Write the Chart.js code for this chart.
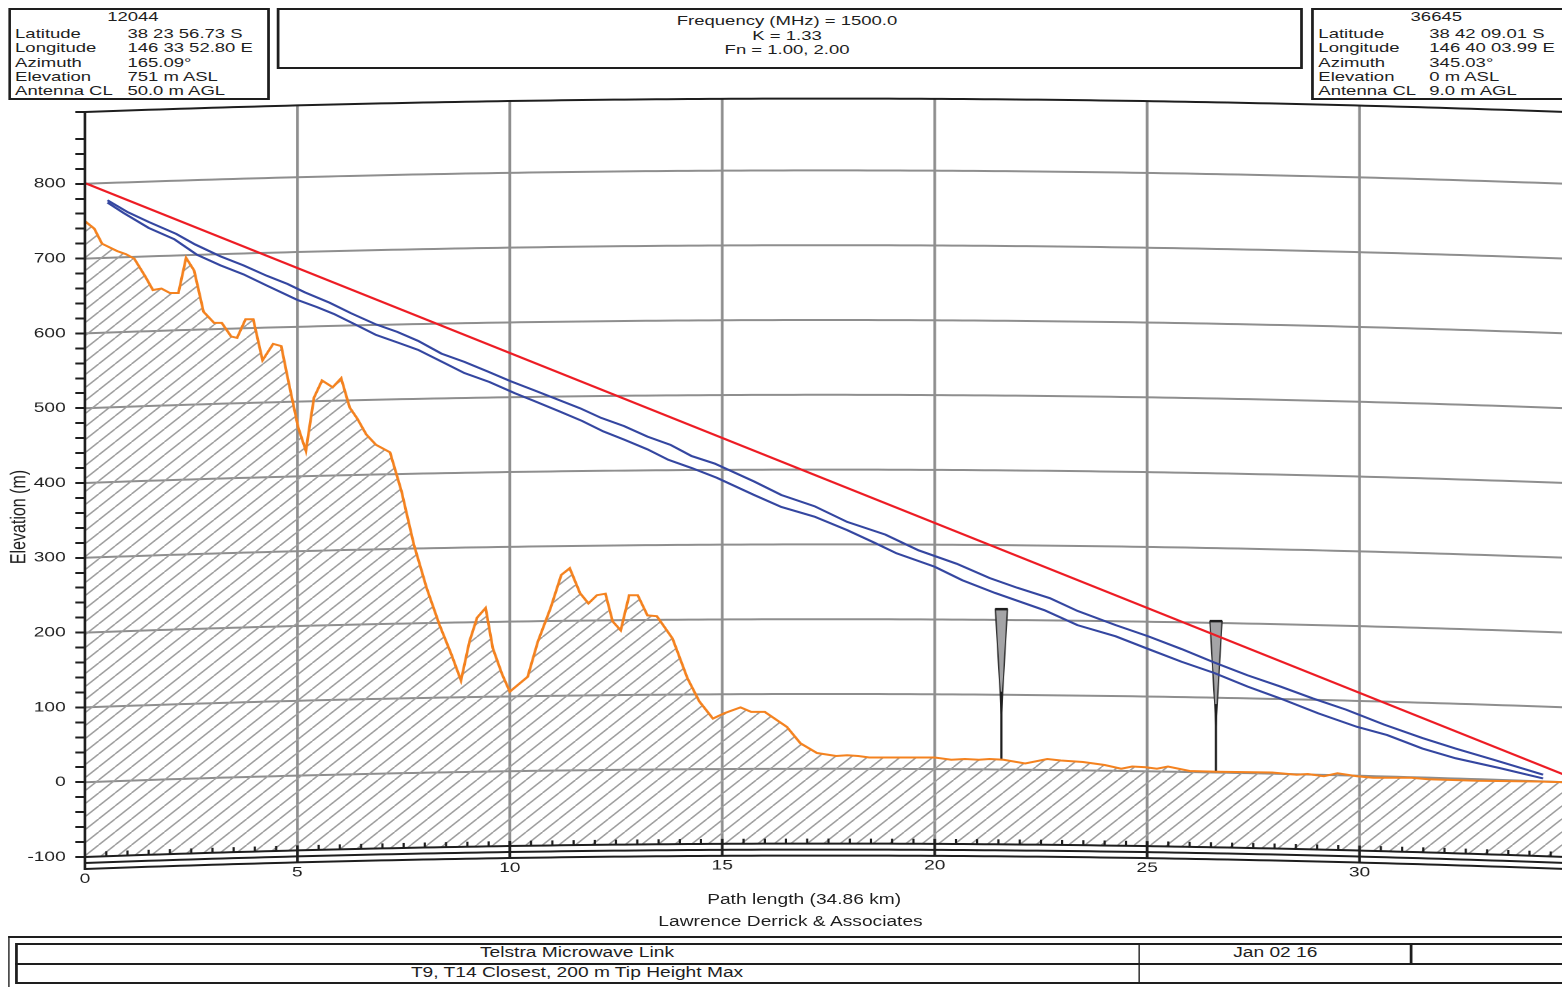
<!DOCTYPE html>
<html>
<head>
<meta charset="utf-8">
<script src="https://cdn.jsdelivr.net/npm/chart.js@4"></script>
<style>
  html, body { margin: 0; width: 1562px; height: 987px; overflow: hidden; background: #fff; }
  #page { position: absolute; left: 0; top: 0; width: 1160px; height: 987px; transform: scaleX(1.37); transform-origin: 0 0;
          font-family: "Liberation Sans", Arial, sans-serif; color: #1e1e1e; }
  #page canvas { position: absolute; left: 0; top: 0; }
  .box { position: absolute; border: 2px solid #1e1e1e; box-sizing: border-box; background: #fff; }
  .t { position: absolute; font-size: 13.5px; line-height: 15px; white-space: nowrap; }
  .c { text-align: center; }
  .ln { position: absolute; background: #1e1e1e; }
</style>
</head>
<body>
<div id="page">
  <canvas id="profile" width="1160" height="987"></canvas>

  <!-- site A -->
  <div class="box" style="left:6px;top:8px;width:191px;height:92px"></div>
  <div class="t c" style="left:6px;width:182px;top:8.5px">12044</div>
  <div class="t" style="left:11px;top:25.5px">Latitude</div><div class="t" style="left:93px;top:25.5px">38 23 56.73 S</div>
  <div class="t" style="left:11px;top:40px">Longitude</div><div class="t" style="left:93px;top:40px">146 33 52.80 E</div>
  <div class="t" style="left:11px;top:54.5px">Azimuth</div><div class="t" style="left:93px;top:54.5px">165.09°</div>
  <div class="t" style="left:11px;top:68.5px">Elevation</div><div class="t" style="left:93px;top:68.5px">751 m ASL</div>
  <div class="t" style="left:11px;top:83px">Antenna CL</div><div class="t" style="left:93px;top:83px">50.0 m AGL</div>

  <!-- link parameters -->
  <div class="box" style="left:201.5px;top:8px;width:749.5px;height:60.5px"></div>
  <div class="t c" style="left:201.5px;width:746px;top:12.5px">Frequency (MHz) = 1500.0</div>
  <div class="t c" style="left:201.5px;width:746px;top:27.5px">K = 1.33</div>
  <div class="t c" style="left:201.5px;width:746px;top:41.5px">Fn = 1.00, 2.00</div>

  <!-- site B -->
  <div class="box" style="left:957.4px;top:8px;width:191px;height:92px"></div>
  <div class="t c" style="left:957.4px;width:182px;top:8.5px">36645</div>
  <div class="t" style="left:962.3px;top:25.5px">Latitude</div><div class="t" style="left:1043.3px;top:25.5px">38 42 09.01 S</div>
  <div class="t" style="left:962.3px;top:40px">Longitude</div><div class="t" style="left:1043.3px;top:40px">146 40 03.99 E</div>
  <div class="t" style="left:962.3px;top:54.5px">Azimuth</div><div class="t" style="left:1043.3px;top:54.5px">345.03°</div>
  <div class="t" style="left:962.3px;top:68.5px">Elevation</div><div class="t" style="left:1043.3px;top:68.5px">0 m ASL</div>
  <div class="t" style="left:962.3px;top:83px">Antenna CL</div><div class="t" style="left:1043.3px;top:83px">9.0 m AGL</div>

  <!-- captions -->
  <div class="t c" style="left:387px;width:400px;top:892px;font-size:14px">Path length (34.86 km)</div>
  <div class="t c" style="left:377px;width:400px;top:914px;font-size:14px">Lawrence Derrick &amp; Associates</div>

  <!-- title block -->
  <div class="ln" style="left:5.8px;top:936px;width:1200px;height:2px"></div>
  <div class="ln" style="left:5.8px;top:936px;width:1.6px;height:60px"></div>
  <div class="box" style="left:11.2px;top:943px;width:1200px;height:41px"></div>
  <div class="ln" style="left:11.2px;top:962.5px;width:1200px;height:2px"></div>
  <div class="ln" style="left:830.6px;top:943px;width:1.6px;height:41px"></div>
  <div class="ln" style="left:1029.2px;top:943px;width:1.6px;height:21px"></div>
  <div class="t c" style="left:11.2px;width:820px;top:944.5px;font-size:14px">Telstra Microwave Link</div>
  <div class="t c" style="left:831.4px;width:199px;top:944.5px;font-size:14px">Jan 02 16</div>
  <div class="t c" style="left:11.2px;width:820px;top:964.5px;font-size:14px">T9, T14 Closest, 200 m Tip Height Max</div>
</div>

<script>
// path geometry
const pathKm = 34.86;
const kFactor = 1.33;
const yMin = -100;
const yMax = 896;
const xTicks = [0, 5, 10, 15, 20, 25, 30];

// terrain profile (m, as plotted)
const terrainKm = [0, 0.22, 0.40, 0.76, 0.96, 1.16, 1.41, 1.60, 1.80, 2.00,
  2.20, 2.38, 2.57, 2.79, 3.04, 3.22, 3.44, 3.58, 3.78, 3.96,
  4.18, 4.43, 4.62, 4.77, 5.02, 5.20, 5.39, 5.58, 5.83, 6.03,
  6.23, 6.41, 6.62, 6.85, 7.18, 7.45, 7.74, 8.04, 8.34, 8.63,
  8.85, 9.05, 9.23, 9.43, 9.60, 9.82, 10.00, 10.42, 10.66, 10.96,
  11.21, 11.41, 11.65, 11.85, 12.05, 12.25, 12.42, 12.61, 12.81, 13.01,
  13.24, 13.46, 13.83, 14.18, 14.46, 14.78, 15.04, 15.43, 15.68, 16.00,
  16.52, 16.84, 17.23, 17.68, 17.94, 18.20, 18.46, 20.00, 20.39, 20.71,
  21.04, 21.29, 21.62, 22.13, 22.65, 22.97, 23.49, 24.00, 24.39, 24.65,
  24.97, 25.23, 25.49, 26.00, 26.65, 27.94, 28.52, 28.78, 29.16, 29.48,
  29.94, 30.32, 31.22, 31.61, 32.77, 34.19, 34.86];
const terrainElev = [750, 740, 720, 710, 706, 700, 677, 658, 660, 654,
  654, 701, 684, 629, 614, 614, 596, 594, 619, 619,
  564, 586, 583, 541, 474, 443, 514, 537, 528, 540,
  501, 486, 465, 451, 441, 389, 318, 260, 211, 170,
  136, 188, 220, 233, 179, 144, 121, 141, 188, 233,
  277, 286, 253, 239, 250, 252, 215, 203, 250, 250,
  223, 222, 192, 139, 108, 85, 92, 100, 94, 94,
  74, 52, 39, 35, 36, 35, 33, 33, 30, 31,
  30, 31, 30, 25, 31, 29, 27, 23, 18, 21,
  20, 18, 21, 15, 14, 13, 10, 11, 8, 12,
  8, 6, 6, 4, 2, 1, 0];

// line of sight, antenna to antenna
const losKm = [0, 34.86];
const losElev = [801, 9];

// Fresnel clearance lines (Fn = 1.00 and 2.00)
const fn1Km = [0.53, 1.01, 1.5, 2.15, 2.59, 3.19, 3.73, 4.28, 4.77, 5.17,
  5.76, 6.26, 6.85, 7.35, 7.84, 8.39, 8.93, 9.48, 10.02, 10.57,
  11.11, 11.65, 12.15, 12.69, 13.24, 13.78, 14.28, 14.82, 15.75, 16.39,
  17.17, 17.94, 18.84, 19.62, 20.52, 21.29, 21.94, 22.71, 23.36, 24.26,
  25.03, 25.81, 26.58, 27.36, 28.13, 28.9, 29.68, 30.58, 31.48, 32.26,
  33.16, 34.32];
const fn1Elev = [778, 762, 749, 733, 719, 703, 691, 677, 666, 655,
  641, 627, 612, 602, 590, 573, 562, 549, 536, 524,
  512, 500, 487, 476, 462, 451, 436, 426, 402, 384,
  369, 348, 331, 310, 292, 273, 260, 246, 229, 210,
  195, 178, 160, 143, 128, 112, 97, 77, 59, 45,
  30, 10];
const fn2Km = [0.53, 0.91, 1.5, 2.1, 2.64, 3.19, 3.73, 4.28, 4.99, 5.47,
  5.86, 6.36, 6.85, 7.4, 7.84, 8.44, 8.93, 9.52, 10.12, 10.56,
  11.16, 11.7, 12.2, 12.69, 13.24, 13.73, 14.28, 14.87, 15.75, 16.39,
  17.17, 17.94, 18.59, 19.1, 20.0, 20.65, 21.42, 22.58, 23.36, 24.26,
  25.03, 25.81, 26.58, 27.36, 28.13, 29.03, 29.94, 30.65, 31.48, 32.26,
  33.29, 34.32];
const fn2Elev = [775, 761, 741, 726, 705, 691, 679, 664, 645, 635,
  626, 612, 598, 587, 578, 561, 547, 535, 520, 510,
  496, 483, 469, 458, 445, 431, 420, 407, 384, 368,
  355, 337, 320, 306, 288, 270, 253, 230, 210, 195,
  178, 161, 146, 128, 112, 92, 74, 63, 45, 32,
  19, 5];

// wind turbines T9, T14
const turbineKm = [21.57, 26.62];
const turbineBase = [31, 14];
const turbineTip = [231, 215];

const pts = (xs, ys) => xs.map((x, i) => ({ x: x, y: ys[i] }));
const bulge = km => km * (pathKm - km) / (12.74 * kFactor);

const ink = '#1e1e1e';
const gridGray = '#8e8e8e';

// diagonal hatch for the ground
function hatch() {
  const c = document.createElement('canvas');
  c.width = 24; c.height = 26;
  const g = c.getContext('2d');
  g.strokeStyle = '#9d9d9d';
  g.lineWidth = 2.6;
  [-24, 0, 24].forEach(o => {
    g.beginPath(); g.moveTo(o, 26); g.lineTo(o + 24, 0); g.stroke();
  });
  const p = g.createPattern(c, 'repeat');
  p.setTransform(new DOMMatrix().scale(0.5));
  return p;
}

const profileFrame = {
  id: 'profileFrame',
  beforeDatasetsDraw(chart) {
    const { ctx, scales: { x, y } } = chart;
    const yAt = (v, km) => y.getPixelForValue(v + bulge(km));
    ctx.save();
    ctx.strokeStyle = gridGray;
    ctx.lineWidth = 2;
    for (let v = 0; v <= 800; v += 100) {
      ctx.beginPath();
      for (let k = 0; k <= 140; k++) {
        const km = pathKm * k / 140;
        const px = x.getPixelForValue(km), py = yAt(v, km);
        k ? ctx.lineTo(px, py) : ctx.moveTo(px, py);
      }
      ctx.stroke();
    }
    xTicks.slice(1).forEach(km => {
      const px = x.getPixelForValue(km);
      ctx.beginPath();
      ctx.moveTo(px, yAt(yMax, km));
      ctx.lineTo(px, yAt(yMin, km));
      ctx.stroke();
    });
    // turbines
    turbineKm.forEach((km, i) => {
      const px = x.getPixelForValue(km);
      const top = y.getPixelForValue(turbineTip[i]);
      const base = y.getPixelForValue(turbineBase[i]);
      const h = base - top;
      ctx.beginPath();
      ctx.moveTo(px - 4.4, top);
      ctx.lineTo(px + 4.4, top);
      ctx.lineTo(px, top + 0.7 * h);
      ctx.closePath();
      ctx.fillStyle = '#a4a4a6';
      ctx.fill();
      ctx.strokeStyle = '#333';
      ctx.lineWidth = 1;
      ctx.stroke();
      ctx.fillStyle = ink;
      ctx.fillRect(px - 4.6, top - 1.5, 9.2, 2.5);
      ctx.strokeStyle = ink;
      ctx.lineWidth = 1.6;
      ctx.beginPath();
      ctx.moveTo(px, top + 0.55 * h);
      ctx.lineTo(px, base);
      ctx.stroke();
    });
    ctx.restore();
  },
  afterDatasetsDraw(chart) {
    const { ctx, chartArea, scales: { x, y } } = chart;
    const yAt = (v, km) => y.getPixelForValue(v + bulge(km));
    const curve = (v, dy) => {
      ctx.beginPath();
      for (let k = 0; k <= 140; k++) {
        const km = pathKm * k / 140;
        const px = x.getPixelForValue(km), py = yAt(v, km) + dy;
        k ? ctx.lineTo(px, py) : ctx.moveTo(px, py);
      }
    };
    ctx.save();
    // clear ground below the curved datum
    curve(yMin, 0);
    ctx.lineTo(x.getPixelForValue(pathKm), chartArea.bottom + 3);
    ctx.lineTo(x.getPixelForValue(0), chartArea.bottom + 3);
    ctx.closePath();
    ctx.fillStyle = '#fff';
    ctx.fill();

    ctx.strokeStyle = ink;
    ctx.lineWidth = 2;
    curve(yMax, 0); ctx.stroke();
    curve(yMin, 0); ctx.stroke();
    curve(yMin, 6); ctx.stroke();
    curve(yMin, 12); ctx.stroke();

    // left axis line
    const x0 = x.getPixelForValue(0);
    ctx.beginPath();
    ctx.moveTo(x0, yAt(yMax, 0) - 1);
    ctx.lineTo(x0, yAt(yMin, 0) + 13);
    ctx.stroke();

    // minor ticks every 0.5 km, major ticks and labels every 5 km
    for (let k = 1; k * 0.5 < pathKm; k++) {
      const km = k * 0.5;
      const px = x.getPixelForValue(km), py = yAt(yMin, km);
      ctx.beginPath();
      if (km % 5 === 0) { ctx.lineWidth = 2; ctx.moveTo(px, py - 5); ctx.lineTo(px, py + 12); }
      else { ctx.lineWidth = 1.6; ctx.moveTo(px, py); ctx.lineTo(px, py - 5); }
      ctx.stroke();
    }
    ctx.fillStyle = ink;
    ctx.font = '14px "Liberation Sans", Arial, sans-serif';
    ctx.textAlign = 'center';
    ctx.textBaseline = 'middle';
    xTicks.forEach(km => {
      ctx.fillText(String(km), x.getPixelForValue(km), yAt(yMin, km) + 22);
    });

    // vertical axis title
    ctx.translate(13.9, 517);
    ctx.rotate(-Math.PI / 2);
    ctx.font = '16px "Liberation Sans", Arial, sans-serif';
    ctx.fillText('Elevation (m)', 0, 0);
    ctx.restore();
  }
};

Chart.defaults.font.family = '"Liberation Sans", Arial, sans-serif';
Chart.defaults.color = ink;

new Chart(document.getElementById('profile'), {
  type: 'line',
  data: {
    datasets: [
      { label: 'Terrain', data: pts(terrainKm, terrainElev), borderColor: '#f4821f', borderWidth: 2,
        backgroundColor: hatch(), fill: 'start', pointRadius: 0, tension: 0 },
      { label: 'Fn 1.00', data: pts(fn1Km, fn1Elev), borderColor: '#3446a0', borderWidth: 2,
        fill: false, pointRadius: 0, tension: 0 },
      { label: 'Fn 2.00', data: pts(fn2Km, fn2Elev), borderColor: '#3446a0', borderWidth: 2,
        fill: false, pointRadius: 0, tension: 0 },
      { label: 'Line of sight', data: pts(losKm, losElev), borderColor: '#ed1c24', borderWidth: 2,
        fill: false, pointRadius: 0, tension: 0 }
    ]
  },
  options: {
    responsive: false,
    animation: false,
    devicePixelRatio: 2,
    layout: { padding: { left: 0, right: 16.9, top: 112, bottom: 130 } },
    plugins: { legend: { display: false }, tooltip: { enabled: false } },
    scales: {
      x: { type: 'linear', min: 0, max: pathKm, display: false },
      y: {
        type: 'linear', min: yMin, max: yMax,
        afterFit: scale => { scale.width = 62; },
        border: { display: false },
        grid: { drawOnChartArea: false, drawTicks: true, tickLength: 7, color: ink, lineWidth: 2 },
        ticks: {
          stepSize: 20, autoSkip: false, padding: 7,
          font: { size: 14 }, color: ink,
          callback: v => (Math.round(v) % 100 === 0 && v < yMax ? String(Math.round(v)) : '')
        },
        title: { display: false }
      }
    }
  },
  plugins: [profileFrame]
});
</script>
</body>
</html>
